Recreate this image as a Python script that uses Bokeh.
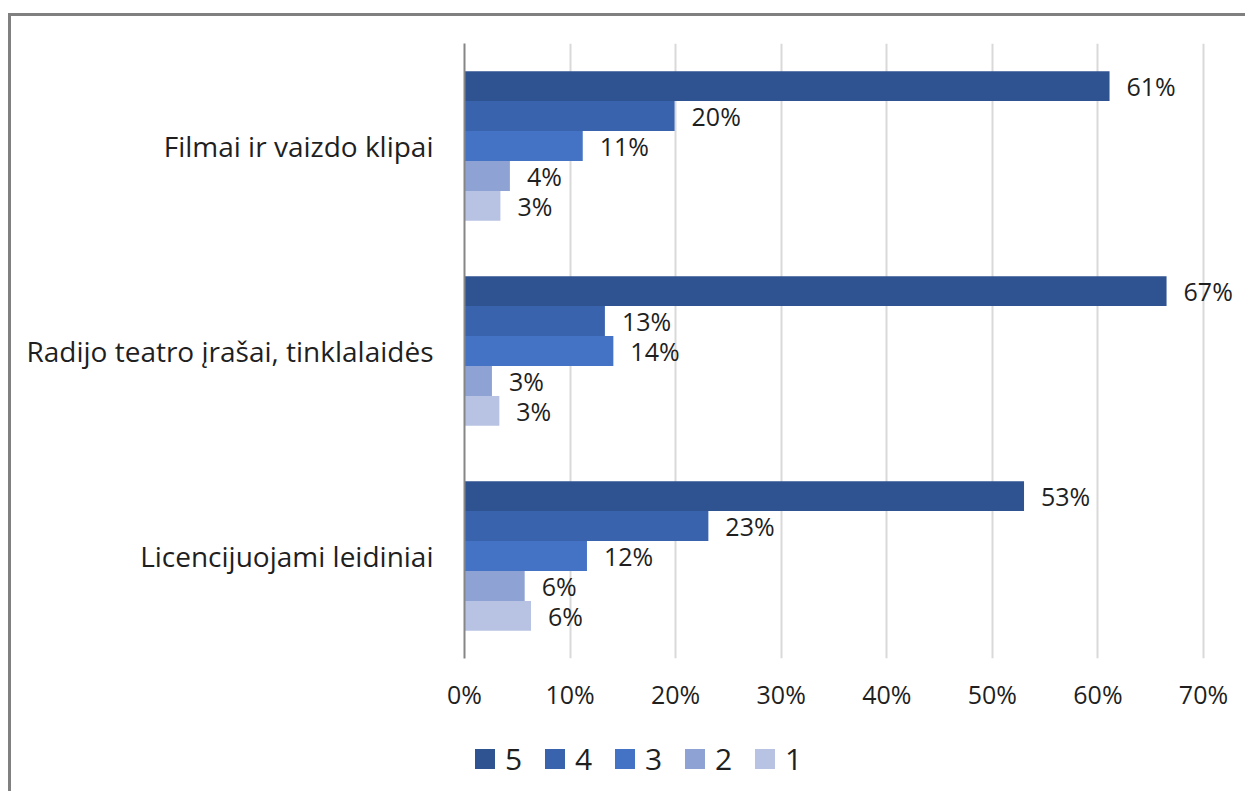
from bokeh.plotting import figure
from bokeh.models import (FactorRange, Range1d, ColumnDataSource, LabelSet, Legend,
                          LegendItem, FixedTicker, PrintfTickFormatter)
from bokeh.layouts import column
from bokeh.transform import dodge
from bokeh.core.properties import value
from bokeh.embed import file_html
from bokeh.resources import INLINE

categories = ["Filmai ir vaizdo klipai", "Radijo teatro įrašai, tinklalaidės", "Licencijuojami leidiniai"]
series = ["5", "4", "3", "2", "1"]
vals_5 = [61.1, 66.5, 53.0]
vals_4 = [19.9, 13.3, 23.1]
vals_3 = [11.2, 14.1, 11.6]
vals_2 = [4.3, 2.6, 5.7]
vals_1 = [3.4, 3.3, 6.3]
labels_5 = ["61%", "67%", "53%"]
labels_4 = ["20%", "13%", "23%"]
labels_3 = ["11%", "14%", "12%"]
labels_2 = ["4%", "3%", "6%"]
labels_1 = ["3%", "3%", "6%"]
x_ticks = [0, 10, 20, 30, 40, 50, 60, 70]

colors = ["#2F5291", "#3A63AD", "#4472C4", "#8FA2D4", "#B8C2E3"]
all_vals = [vals_5, vals_4, vals_3, vals_2, vals_1]
all_labels = [labels_5, labels_4, labels_3, labels_2, labels_1]

FONT = "Open Sans"
TXT = "#1f1f1f"
bar_h = 0.146
offsets = [2 * bar_h, bar_h, 0.0, -bar_h, -2 * bar_h]

# frame spans 0..70% over 739 px; extended to the canvas edge so labels are not clipped
x_end = 70 * (1245 - 464) / 739.0

p = figure(width=1234, height=710,
           y_range=FactorRange(factors=categories[::-1]),
           x_range=Range1d(0, x_end),
           output_backend="svg", toolbar_location=None,
           min_border_left=453, min_border_right=0,
           min_border_top=27, min_border_bottom=68)
p.outline_line_color = None
p.background_fill_color = "white"
p.border_fill_color = "white"

for s, vals, labs, col, off in zip(series, all_vals, all_labels, colors, offsets):
    src = ColumnDataSource(dict(cat=categories, val=vals, lab=labs))
    p.hbar(y=dodge("cat", off, range=p.y_range), right="val", left=0,
           height=bar_h, source=src, fill_color=col, line_color=None)
    ls = LabelSet(x="val", y=dodge("cat", off, range=p.y_range), text="lab",
                  source=src, x_offset=17, text_align="left", text_baseline="middle",
                  text_font=value(FONT), text_font_size="25px", text_color=TXT)
    p.add_layout(ls)

# axes
p.xaxis.ticker = FixedTicker(ticks=x_ticks)
p.xaxis.formatter = PrintfTickFormatter(format="%d%%")
p.xaxis.axis_line_color = None
p.xaxis.major_tick_line_color = None
p.xaxis.minor_tick_line_color = None
p.xaxis.major_label_standoff = 12
p.xaxis.major_label_text_font = FONT
p.xaxis.major_label_text_font_size = "25px"
p.xaxis.major_label_text_color = TXT

p.yaxis.axis_line_color = "#868686"
p.yaxis.axis_line_width = 2
p.yaxis.major_tick_line_color = None
p.yaxis.minor_tick_line_color = None
p.yaxis.major_label_standoff = 25
p.yaxis.major_label_text_font = FONT
p.yaxis.major_label_text_font_size = "28px"
p.yaxis.major_label_text_color = TXT

p.xgrid.grid_line_color = "#d9d9d9"
p.xgrid.grid_line_width = 2
p.ygrid.grid_line_color = None

# legend strip below the chart (its frame is aligned with the chart frame by the column)
lg = figure(width=1234, height=65, x_range=Range1d(0, 1), y_range=Range1d(0, 1),
            output_backend="svg", toolbar_location=None,
            min_border_left=0, min_border_right=0, min_border_top=0, min_border_bottom=0)
lg.axis.visible = False
lg.grid.visible = False
lg.outline_line_color = None
lg.border_fill_color = "white"
lg.background_fill_color = "white"

items = []
for s, col in zip(series, colors):
    r = lg.hbar(y="y", right="r", left="r", height=0.1,
                source=ColumnDataSource(dict(y=[-10.0], r=[-10.0])),
                fill_color=col, line_color=None)
    items.append(LegendItem(label=s, renderers=[r]))

legend = Legend(items=items, orientation="horizontal", location=(8, 12),
                glyph_width=25, glyph_height=25, label_standoff=8, spacing=17,
                label_text_font=FONT, label_text_font_size="30px", label_text_color=TXT,
                border_line_color=None, background_fill_alpha=0, padding=0, margin=0)
lg.add_layout(legend)

layout = column(p, lg, spacing=0)
layout.styles = {"margin-top": "13px", "margin-left": "8px",
                 "border-top": "3px solid #808080", "border-left": "3px solid #808080"}

open("out.html", "w").write(file_html(layout, INLINE))
